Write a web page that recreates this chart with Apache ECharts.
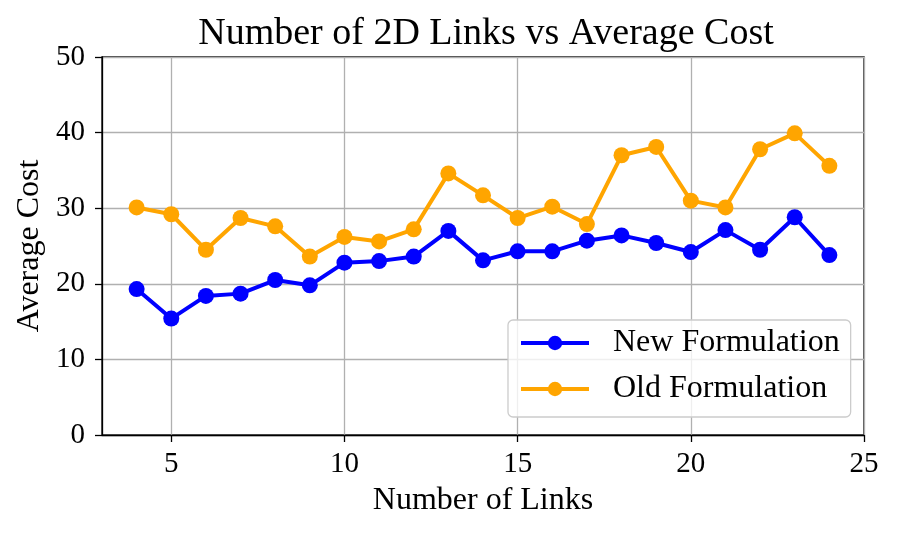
<!DOCTYPE html>
<html>
<head>
<meta charset="utf-8">
<script src="https://cdn.jsdelivr.net/npm/echarts@6/dist/echarts.min.js"></script>
<style>
html,body{margin:0;padding:0;background:#fff;}
#chart{width:897px;height:535px;}
</style>
</head>
<body>
<div id="chart"></div>
<script>
const links = [4,5,6,7,8,9,10,11,12,13,14,15,16,17,18,19,20,21,22,23,24];
const newFormulation = [19.3,15.4,18.4,18.7,20.5,19.8,22.8,23.0,23.6,27.0,23.1,24.3,24.3,25.7,26.4,25.4,24.2,27.1,24.5,28.8,23.8];
const oldFormulation = [30.1,29.2,24.5,28.7,27.6,23.6,26.2,25.6,27.2,34.6,31.7,28.7,30.2,27.9,37.0,38.1,31.0,30.1,37.8,39.9,35.6];
const xTicks = [5,10,15,20,25];
const yTicks = [0,10,20,30,40,50];

const FONT = 'Liberation Serif';
const chart = echarts.init(document.getElementById('chart'), null, {renderer:'canvas'});

function pairs(xs, ys){ return xs.map((x,i)=>[x, ys[i]]); }

chart.setOption({
  animation: false,
  backgroundColor: '#ffffff',
  title: {
    text: 'Number of 2D Links vs Average Cost',
    left: 481,
    top: 10,
    textAlign: 'center',
    textStyle: {fontFamily: FONT, fontSize: 38, fontWeight: 'normal', color: '#000'}
  },
  grid: {
    left: 102, right: 33, top: 57, bottom: 100,
    show: true, borderColor: '#000', borderWidth: 1.3, backgroundColor: 'transparent'
  },
  legend: {
    orient: 'vertical',
    left: 508,
    top: 320,
    padding: [7, 11, 12, 11],
    itemGap: 14,
    itemWidth: 68,
    itemHeight: 18,
    backgroundColor: 'rgba(255,255,255,0.8)',
    borderColor: '#cccccc',
    borderWidth: 1.3,
    borderRadius: 5,
    lineStyle: {width: 4},
    textStyle: {fontFamily: FONT, fontSize: 32, color: '#000', lineHeight: 32, padding: [0,0,0,19]},
    data: ['New Formulation', 'Old Formulation']
  },
  xAxis: {
    type: 'value',
    min: 3, max: 25,
    name: 'Number of Links',
    nameLocation: 'middle',
    nameGap: 50,
    nameTextStyle: {fontFamily: FONT, fontSize: 32, color: '#000'},
    axisLine: {show: true, onZero: false, lineStyle: {color: '#000', width: 1.3}},
    axisTick: {show: true, length: 7, lineStyle: {color: '#000', width: 1.3}, customValues: xTicks},
    axisLabel: {fontFamily: FONT, fontSize: 29, color: '#000', margin: 15, customValues: xTicks},
    splitLine: {show: true, lineStyle: {color: '#b0b0b0', width: 1.3}}
  },
  yAxis: {
    type: 'value',
    min: 0, max: 50, interval: 10,
    name: 'Average Cost',
    nameLocation: 'middle',
    nameGap: 49,
    nameTextStyle: {fontFamily: FONT, fontSize: 32, color: '#000'},
    axisLine: {show: true, lineStyle: {color: '#000', width: 1.3}},
    axisTick: {show: true, length: 7, lineStyle: {color: '#000', width: 1.3}},
    axisLabel: {fontFamily: FONT, fontSize: 29, color: '#000', margin: 17,
      formatter: v => yTicks.includes(v) ? String(v) : ''},
    splitLine: {show: true, lineStyle: {color: '#b0b0b0', width: 1.3}}
  },
  series: [
    {
      type: 'line',
      name: 'New Formulation',
      data: pairs(links, newFormulation),
      symbol: 'circle',
      symbolSize: 16,
      color: '#0000ff',
      lineStyle: {width: 4},
      itemStyle: {color: '#0000ff'}
    },
    {
      type: 'line',
      name: 'Old Formulation',
      data: pairs(links, oldFormulation),
      symbol: 'circle',
      symbolSize: 16,
      color: '#ffa500',
      lineStyle: {width: 4},
      itemStyle: {color: '#ffa500'}
    }
  ]
});
</script>
</body>
</html>
